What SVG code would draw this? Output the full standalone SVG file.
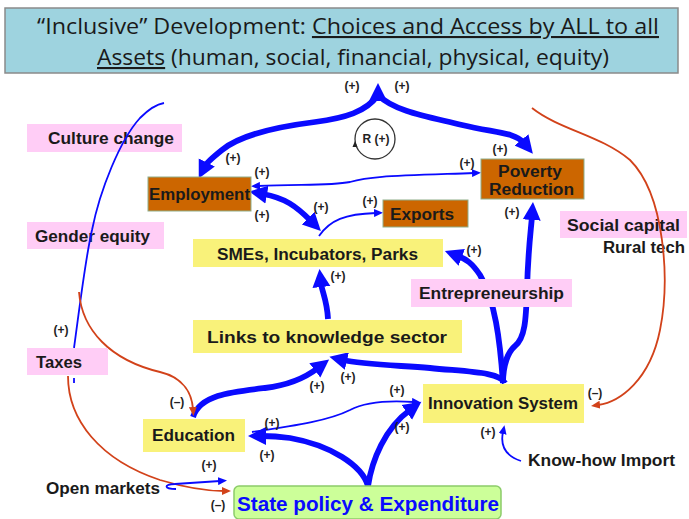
<svg xmlns="http://www.w3.org/2000/svg" width="689" height="519" viewBox="0 0 689 519">
<defs>
<style>
.t{font-family:"Liberation Sans",Arial,sans-serif;font-weight:bold;fill:#1a1a1a}
.node{font-size:16px}
.sign{font-family:"Liberation Sans",Arial,sans-serif;font-weight:bold;font-size:12px;fill:#222;text-anchor:middle}
.orange{fill:#cc6600;stroke:#8fae8a;stroke-width:1}
.yellow{fill:#f9f27a}
.pink{fill:#ffcdf6}
.thick{fill:none;stroke:#0a0aff;stroke-width:5.8}
.thin{fill:none;stroke:#0a0aff;stroke-width:1.8}
.red{fill:none;stroke:#d2421a;stroke-width:1.8}
.title{font-family:"Open Sans","Noto Sans",sans-serif;font-size:21px;fill:#1a1a1a}
</style>
<marker id="ah-big" markerUnits="userSpaceOnUse" markerWidth="20" markerHeight="20" viewBox="0 0 20 20" refX="4" refY="10" orient="auto-start-reverse">
<path d="M0,1 L18,10 L0,19 z" fill="#0a0aff"/>
</marker>
<marker id="ah-small" markerUnits="userSpaceOnUse" markerWidth="10" markerHeight="8" viewBox="0 0 10 8" refX="2" refY="4" orient="auto-start-reverse">
<path d="M0,0 L9,4 L0,8 z" fill="#0a0aff"/>
</marker>
<marker id="ah-red" markerUnits="userSpaceOnUse" markerWidth="10" markerHeight="8" viewBox="0 0 10 8" refX="2" refY="4" orient="auto">
<path d="M0,0 L9,4 L0,8 z" fill="#d2421a"/>
</marker>
</defs>

<rect width="689" height="519" fill="#ffffff"/>

<!-- heading banner -->
<g id="title">
<rect x="5" y="8" width="673" height="65" fill="#9ed3df" stroke="#8a8a8a" stroke-width="1.5"/>
<text class="title" x="37" y="34" textLength="622" lengthAdjust="spacingAndGlyphs">“Inclusive” Development: <tspan text-decoration="underline">Choices and Access by ALL to all</tspan></text>
<text class="title" x="97" y="65" textLength="512" lengthAdjust="spacingAndGlyphs"><tspan text-decoration="underline">Assets</tspan> (human, social, financial, physical, equity)</text>
</g>

<!-- side factors drawn under the connectors -->
<g id="culture-change">
<rect class="pink" x="27" y="124" width="155" height="28"/>
<text class="t node" x="48" y="144" textLength="126" lengthAdjust="spacingAndGlyphs">Culture change</text>
</g>
<g id="gender-equity">
<rect class="pink" x="27" y="222" width="137" height="27"/>
<text class="t node" x="35" y="242" textLength="115" lengthAdjust="spacingAndGlyphs">Gender equity</text>
</g>
<g id="social-capital">
<rect class="pink" x="560" y="211" width="127" height="27"/>
<text class="t node" x="567" y="231" textLength="113" lengthAdjust="spacingAndGlyphs">Social capital</text>
<text class="t node" x="603" y="253" textLength="82" lengthAdjust="spacingAndGlyphs">Rural tech</text>
</g>

<!-- connectors -->
<g id="connectors">
<!-- apex loop: employment / poverty reduction -->
<path class="thick" d="M378,100 L378,97" marker-end="url(#ah-big)"/>
<path class="thick" d="M378,95 C366,112 345,118 315,122 C275,127 240,135 222,150 C212,158 207,162 205,166" marker-end="url(#ah-big)"/>
<path class="thick" d="M378,95 C395,112 430,117 462,125 C495,133 515,132 524,143" marker-end="url(#ah-big)"/>
<!-- employment <-> poverty reduction -->
<path class="thin" d="M258,186 C300,184 330,186 350,182 C370,176 390,176 474,173" marker-start="url(#ah-small)" marker-end="url(#ah-small)"/>
<!-- employment <-> SMEs -->
<path class="thick" d="M263,194 C285,198 296,206 311,221" marker-start="url(#ah-big)" marker-end="url(#ah-big)"/>
<!-- SMEs -> exports -->
<path class="thin" d="M319,236 C330,220 345,214 376,213" marker-end="url(#ah-small)"/>
<!-- links -> SMEs -->
<path class="thick" d="M328,319 C327,300 322,292 321,283" marker-end="url(#ah-big)"/>
<!-- innovation system branches -->
<path class="thick" d="M505,383 C500,372 470,372 430,368 C390,365 360,364 343,360" marker-end="url(#ah-big)"/>
<path class="thick" d="M503,383 C503,365 508,352 515,346 C525,338 526,320 527,290 C528,250 531,230 532,216" marker-end="url(#ah-big)"/>
<path class="thick" d="M503,383 C500,340 495,300 480,275 C472,263 466,259 458,256" marker-end="url(#ah-big)"/>
<!-- education -> links -->
<path class="thick" d="M193,417 C200,395 230,392 265,388 C290,385 305,378 318,368" marker-end="url(#ah-big)"/>
<!-- state policy -> education / innovation -->
<path class="thick" d="M368,486 C362,465 330,445 290,438 C275,436 268,436 262,436" marker-end="url(#ah-big)"/>
<path class="thick" d="M368,486 C372,460 385,428 410,410" marker-end="url(#ah-big)"/>
<!-- education -> innovation -->
<path class="thin" d="M252,432 C300,425 330,420 350,410 C365,402 385,400 414,402" marker-end="url(#ah-small)"/>
<!-- know-how import -> innovation -->
<path class="thin" stroke-width="2.2" d="M521,461 C506,456 500,446 503,432" marker-end="url(#ah-small)"/>
<!-- social capital loop -> innovation (negative) -->
<path class="red" d="M532,108 C560,130 600,135 630,160 C665,195 670,280 660,330 C650,380 620,402 598,405" marker-end="url(#ah-red)"/>
<!-- taxes -> culture change -->
<path class="thin" d="M74,348 C78,320 85,260 92,230 C100,190 120,140 140,118 C150,108 158,104 164,103"/>
<path class="thin" d="M74,378 L74,383"/>
<!-- gender equity -> education (negative) -->
<path class="red" d="M79,292 C82,330 110,360 160,372 C185,378 192,395 193,409" marker-end="url(#ah-red)"/>
<!-- taxes -> state policy (negative) -->
<path class="red" d="M68,376 C68,420 100,460 160,480 C190,489 210,491 224,491" marker-end="url(#ah-red)"/>
<!-- open markets -> state policy -->
<path class="thin" d="M176,489 C164,489 163,484 175,484 L220,481" marker-end="url(#ah-small)"/>
</g>

<!-- reinforcing loop tag -->
<g id="loop-r">
<circle cx="375" cy="139" r="20" fill="none" stroke="#333" stroke-width="1.3"/>
<path d="M352.5,147 L355,141 L357.5,147 z" fill="#222"/>
<text class="sign" x="376" y="143">R (+)</text>
</g>

<!-- nodes -->
<g id="employment">
<rect class="orange" x="148" y="177" width="103" height="34"/>
<text class="t node" x="149" y="200" textLength="101" lengthAdjust="spacingAndGlyphs">Employment</text>
</g>
<g id="poverty-reduction">
<rect class="orange" x="481" y="159" width="103" height="40"/>
<text class="t node" x="498" y="177" textLength="64" lengthAdjust="spacingAndGlyphs">Poverty</text>
<text class="t node" x="489" y="195" textLength="85" lengthAdjust="spacingAndGlyphs">Reduction</text>
</g>
<g id="exports">
<rect class="orange" x="383" y="200" width="85" height="27"/>
<text class="t node" x="390" y="220" textLength="64" lengthAdjust="spacingAndGlyphs">Exports</text>
</g>
<g id="smes">
<rect class="yellow" x="193" y="239" width="250" height="28"/>
<text class="t node" x="217" y="260" textLength="201" lengthAdjust="spacingAndGlyphs">SMEs, Incubators, Parks</text>
</g>
<g id="entrepreneurship">
<rect class="pink" x="411" y="279" width="161" height="28"/>
<text class="t node" x="419" y="299" textLength="145" lengthAdjust="spacingAndGlyphs">Entrepreneurship</text>
</g>
<g id="links-knowledge">
<rect class="yellow" x="193" y="320" width="269" height="33"/>
<text class="t node" x="207" y="343" textLength="240" lengthAdjust="spacingAndGlyphs">Links to knowledge sector</text>
</g>
<g id="taxes">
<rect class="pink" x="27" y="348" width="81" height="27"/>
<text class="t node" x="36" y="368" textLength="46" lengthAdjust="spacingAndGlyphs">Taxes</text>
</g>
<g id="innovation-system">
<rect class="yellow" x="423" y="384" width="161" height="39"/>
<text class="t node" x="428" y="409" textLength="150" lengthAdjust="spacingAndGlyphs">Innovation System</text>
</g>
<g id="education">
<rect class="yellow" x="143" y="419" width="102" height="33"/>
<text class="t node" x="152" y="441" textLength="83" lengthAdjust="spacingAndGlyphs">Education</text>
</g>
<g id="know-how-import">
<text class="t node" x="528" y="466" textLength="147" lengthAdjust="spacingAndGlyphs">Know-how Import</text>
</g>
<g id="open-markets">
<text class="t node" x="46" y="494" textLength="114" lengthAdjust="spacingAndGlyphs">Open markets</text>
</g>
<g id="state-policy">
<rect x="234" y="486" width="267" height="33" rx="5" fill="#ccff99" stroke="#8ccc6a" stroke-width="1.5"/>
<text class="t" x="237" y="511" font-size="20" style="fill:#0a0aff" textLength="262" lengthAdjust="spacingAndGlyphs">State policy &amp; Expenditure</text>
</g>

<!-- polarity labels -->
<g id="polarities">
<text class="sign" x="352" y="90">(+)</text>
<text class="sign" x="402" y="90">(+)</text>
<text class="sign" x="233" y="162">(+)</text>
<text class="sign" x="262" y="176">(+)</text>
<text class="sign" x="262" y="219">(+)</text>
<text class="sign" x="467" y="167">(+)</text>
<text class="sign" x="500" y="153">(+)</text>
<text class="sign" x="321" y="211">(+)</text>
<text class="sign" x="370" y="205">(+)</text>
<text class="sign" x="338" y="280">(+)</text>
<text class="sign" x="512" y="216">(+)</text>
<text class="sign" x="474" y="254">(+)</text>
<text class="sign" x="61" y="334">(+)</text>
<text class="sign" x="317" y="390">(+)</text>
<text class="sign" x="348" y="381">(+)</text>
<text class="sign" x="397" y="394">(+)</text>
<text class="sign" x="402" y="431">(+)</text>
<text class="sign" x="272" y="427">(+)</text>
<text class="sign" x="267" y="459">(+)</text>
<text class="sign" x="488" y="436">(+)</text>
<text class="sign" x="209" y="469">(+)</text>
<text class="sign" x="177" y="406">(–)</text>
<text class="sign" x="218" y="509">(–)</text>
<text class="sign" x="595" y="397">(–)</text>
</g>
</svg>
